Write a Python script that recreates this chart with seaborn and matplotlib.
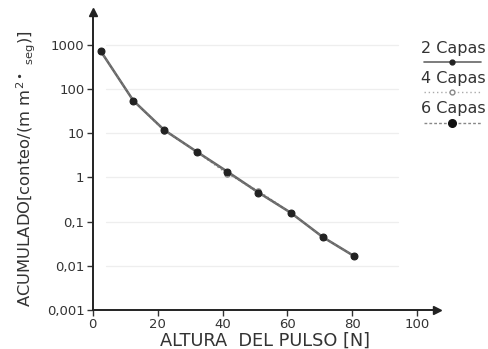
import numpy as np
import pandas as pd
import matplotlib
matplotlib.use("Agg")
import matplotlib.pyplot as plt
import seaborn as sns
from matplotlib.lines import Line2D

# ---- data ----
altura = [2.5, 12.5, 22, 32, 41.5, 51, 61, 71, 80.5]
capas2 = [720, 55, 11.9, 3.85, 1.35, 0.46, 0.159, 0.044, 0.0166]
capas4 = [720, 55, 11.5, 3.8, 1.2, 0.5, 0.16, 0.044, 0.0166]
capas6 = [720, 55, 11.9, 3.85, 1.3, 0.45, 0.159, 0.044, 0.0166]
series_names = ["2 Capas", "4 Capas", "6 Capas"]
ytick_vals = [0.001, 0.01, 0.1, 1, 10, 100, 1000]
ytick_labels = ["0,001", "0,01", "0,1", "1", "10", "100", "1000"]
xtick_vals = [0, 20, 40, 60, 80, 100]
xtick_labels = ["0", "20", "40", "60", "80", "100"]

sns.set_theme(style="white")
plt.rcParams['font.family'] = ['DejaVu Sans']

fig = plt.figure(figsize=(4.88, 3.49), dpi=100)
ax = fig.add_axes([0.19, 0.112, 0.705, 0.854])

tc = "#333333"
# faint gridlines
for v in ytick_vals[1:]:
    ax.plot([4, 94], [v, v], color="#eeeeee", lw=0.9, zorder=0)

df2 = pd.DataFrame({"x": altura, "y": capas2})
df4 = pd.DataFrame({"x": altura, "y": capas4})
df6 = pd.DataFrame({"x": altura, "y": capas6})

sns.lineplot(data=df4, x="x", y="y", ax=ax, color="#999999", lw=1.0,
             linestyle=(0, (1, 2)), marker="o", markersize=4,
             markerfacecolor="white", markeredgecolor="#888888", zorder=2)
sns.lineplot(data=df2, x="x", y="y", ax=ax, color="#666666", lw=1.8,
             marker="o", markersize=3.5, markerfacecolor="#222222",
             markeredgecolor="#222222", zorder=3)
sns.lineplot(data=df6, x="x", y="y", ax=ax, color="#777777", lw=1.0,
             linestyle=(0, (2, 1.5)), marker="o", markersize=5,
             markerfacecolor="#222222", markeredgecolor="#222222", zorder=4)

ax.set_yscale("log")
ax.set_xlim(0, 106)
ax.set_ylim(1e-3, 10 ** 3.75)
ax.set_yticks(ytick_vals)
ax.set_yticklabels(ytick_labels)
ax.set_xticks(xtick_vals)
ax.set_xticklabels(xtick_labels)
ax.minorticks_off()
ax.tick_params(axis="both", labelsize=9.5, colors=tc, length=4, width=1,
               direction="out", left=True, bottom=True, pad=2)
for s in ["top", "right"]:
    ax.spines[s].set_visible(False)
for s in ["left", "bottom"]:
    ax.spines[s].set_color("#222222")
    ax.spines[s].set_linewidth(1.4)

# arrows on the axes
ax.plot(1, 0, ">", color="#222222", markersize=6, transform=ax.transAxes, clip_on=False)
ax.plot(0, 1, "^", color="#222222", markersize=6, transform=ax.transAxes, clip_on=False)

ax.set_xlabel("ALTURA  DEL PULSO [N]", fontsize=12.8, color=tc, labelpad=0)
ax.set_ylabel("ACUMULADO[conteo/(m m$^{2\\bullet}$ $_{\\mathrm{seg}}$)]", fontsize=11.8,
              color=tc)
ax.yaxis.set_label_coords(-0.16, 0.475)

# legend: text above line sample
leg_styles = [
    dict(color="#666666", lw=1.2, ls="-", marker="o", ms=3.5, mfc="#222222", mec="#222222"),
    dict(color="#aaaaaa", lw=1.0, ls=(0, (1, 2)), marker="o", ms=3.5, mfc="white", mec="#888888"),
    dict(color="#888888", lw=1.0, ls=(0, (2, 1.5)), marker="o", ms=5.5, mfc="#111111", mec="#111111"),
]
text_y = [0.862, 0.775, 0.688]
for name, st, ty in zip(series_names, leg_styles, text_y):
    fig.text(0.862, ty, name, fontsize=11.5, color=tc, ha="left", va="center")
    fig.add_artist(Line2D([0.868, 0.985], [ty - 0.04, ty - 0.04], color=st["color"],
                          lw=st["lw"], ls=st["ls"], transform=fig.transFigure))
    fig.add_artist(Line2D([0.927], [ty - 0.04], color=st["color"], lw=0, marker=st["marker"],
                          ms=st["ms"], mfc=st["mfc"], mec=st["mec"], transform=fig.transFigure))

fig.savefig("out.png", dpi=100)
